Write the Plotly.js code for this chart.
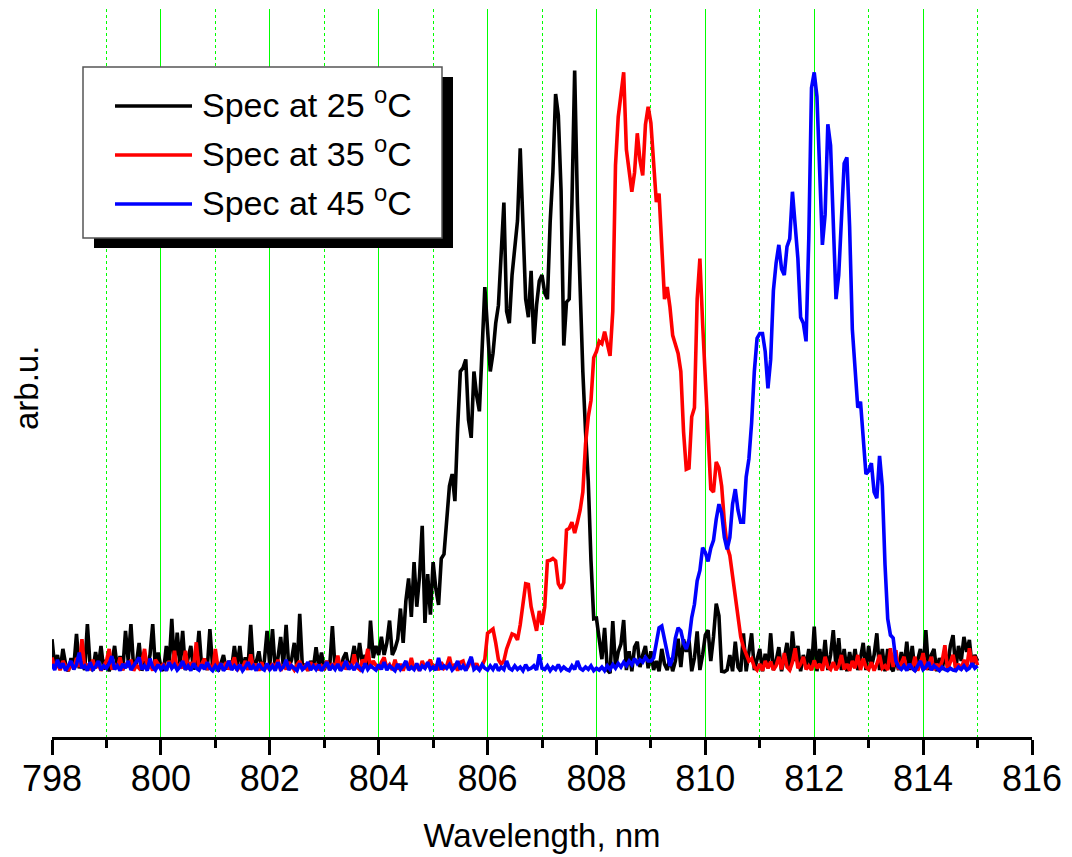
<!DOCTYPE html>
<html>
<head>
<meta charset="utf-8">
<script src="https://cdn.plot.ly/plotly-3.0.1.min.js"></script>
<style>html,body{margin:0;padding:0;background:#fff;}#chart{width:1072px;height:857px;}</style>
</head>
<body>
<div id="chart"></div>
<script>
// Wavelength grid, nm
const wavelength = [
798,798.05,798.1,798.15,798.2,798.25,798.3,798.35,798.4,798.45,798.5,798.55,798.6,798.65,798.7,798.75,798.8,798.85,798.9,798.95,
799,799.05,799.1,799.15,799.2,799.25,799.3,799.35,799.4,799.45,799.5,799.55,799.6,799.65,799.7,799.75,799.8,799.85,799.9,799.95,
800,800.05,800.1,800.15,800.2,800.25,800.3,800.35,800.4,800.45,800.5,800.55,800.6,800.65,800.7,800.75,800.8,800.85,800.9,800.95,
801,801.05,801.1,801.15,801.2,801.25,801.3,801.35,801.4,801.45,801.5,801.55,801.6,801.65,801.7,801.75,801.8,801.85,801.9,801.95,
802,802.05,802.1,802.15,802.2,802.25,802.3,802.35,802.4,802.45,802.5,802.55,802.6,802.65,802.7,802.75,802.8,802.85,802.9,802.95,
803,803.05,803.1,803.15,803.2,803.25,803.3,803.35,803.4,803.45,803.5,803.55,803.6,803.65,803.7,803.75,803.8,803.85,803.9,803.95,
804,804.05,804.1,804.15,804.2,804.25,804.3,804.35,804.4,804.45,804.5,804.55,804.6,804.65,804.7,804.75,804.8,804.85,804.9,804.95,
805,805.05,805.1,805.15,805.2,805.25,805.3,805.35,805.4,805.45,805.5,805.55,805.6,805.65,805.7,805.75,805.8,805.85,805.9,805.95,
806,806.05,806.1,806.15,806.2,806.25,806.3,806.35,806.4,806.45,806.5,806.55,806.6,806.65,806.7,806.75,806.8,806.85,806.9,806.95,
807,807.05,807.1,807.15,807.2,807.25,807.3,807.35,807.4,807.45,807.5,807.55,807.6,807.65,807.7,807.75,807.8,807.85,807.9,807.95,
808,808.05,808.1,808.15,808.2,808.25,808.3,808.35,808.4,808.45,808.5,808.55,808.6,808.65,808.7,808.75,808.8,808.85,808.9,808.95,
809,809.05,809.1,809.15,809.2,809.25,809.3,809.35,809.4,809.45,809.5,809.55,809.6,809.65,809.7,809.75,809.8,809.85,809.9,809.95,
810,810.05,810.1,810.15,810.2,810.25,810.3,810.35,810.4,810.45,810.5,810.55,810.6,810.65,810.7,810.75,810.8,810.85,810.9,810.95,
811,811.05,811.1,811.15,811.2,811.25,811.3,811.35,811.4,811.45,811.5,811.55,811.6,811.65,811.7,811.75,811.8,811.85,811.9,811.95,
812,812.05,812.1,812.15,812.2,812.25,812.3,812.35,812.4,812.45,812.5,812.55,812.6,812.65,812.7,812.75,812.8,812.85,812.9,812.95,
813,813.05,813.1,813.15,813.2,813.25,813.3,813.35,813.4,813.45,813.5,813.55,813.6,813.65,813.7,813.75,813.8,813.85,813.9,813.95,
814,814.05,814.1,814.15,814.2,814.25,814.3,814.35,814.4,814.45,814.5,814.55,814.6,814.65,814.7,814.75,814.8,814.85,814.9,814.95,
815
];

// Spectrum at 25 °C (arb. units)
const spec25 = [
5.6,1.0,3.0,0.5,4.0,1.5,0.3,2.5,1.0,6.5,0.8,2.0,0.5,8.1,1.2,0.4,3.5,1.0,4.5,0.6,
2.2,0.3,1.8,4.5,0.8,2.8,0.5,7.0,2.0,8.1,0.7,1.5,5.0,0.4,2.0,0.8,3.0,8.1,0.6,3.4,
1.0,0.4,4.5,1.2,9.0,0.8,6.7,1.5,7.0,0.5,2.5,4.5,0.6,1.8,7.0,0.9,2.4,0.5,7.3,1.0,
2.8,0.3,1.5,3.0,0.6,2.0,0.8,4.5,1.0,4.5,0.4,2.6,1.0,8.0,0.7,1.8,3.6,0.5,2.0,7.0,
1.2,7.3,0.6,2.5,6.0,1.0,8.0,0.8,2.2,5.0,0.5,9.8,0.8,1.5,0.4,2.0,0.8,4.3,1.0,3.4,
0.5,2.0,1.0,7.8,0.6,1.8,0.5,2.5,3.4,0.8,2.0,4.5,1.5,5.0,1.5,3.0,0.8,8.7,2.5,4.5,
3.0,6.0,3.0,5.0,8.7,3.0,4.0,5.6,10.7,5.0,12.0,15.7,9.3,18.4,11.0,16.0,24.4,8.3,16.4,9.7,
18.4,14.0,11.3,19.0,19.7,25.0,31.0,33.0,28.5,40.5,50.0,50.6,52.0,42.0,39.0,50.0,46.0,43.4,55.0,64.0,
57.0,50.0,53.0,58.0,61.0,70.0,78.0,60.0,58.0,66.0,71.0,75.0,87.0,75.0,62.0,59.0,66.7,54.6,61.0,65.0,
66.0,63.0,62.0,74.8,83.0,96.0,92.5,80.0,54.3,61.5,62.0,78.0,99.9,78.0,62.0,50.0,40.0,31.8,18.6,9.0,
9.1,5.6,2.3,7.5,0.5,0.0,8.6,1.0,3.5,4.8,8.8,0.5,3.6,0.3,4.3,5.2,1.0,3.0,4.5,0.8,
3.6,0.5,2.0,0.3,4.0,1.5,0.5,2.5,0.3,2.0,5.7,1.0,5.6,3.5,5.5,0.3,2.5,6.9,0.5,3.0,
6.3,7.1,2.0,6.0,11.5,9.5,0.3,0.2,0.5,3.0,0.3,5.2,1.0,0.3,6.6,0.3,3.5,6.6,0.5,2.5,
4.0,0.3,3.2,0.8,6.6,0.5,2.0,4.3,0.3,2.5,5.0,0.5,6.9,2.0,4.5,0.3,3.0,1.0,4.0,0.5,
7.7,0.3,4.0,1.0,5.5,0.5,3.0,7.1,1.0,5.8,0.5,4.0,0.3,3.5,1.0,4.0,0.5,2.5,5.0,0.5,
4.5,1.0,3.0,6.6,0.5,4.0,0.3,4.0,1.0,0.3,2.5,0.5,3.5,1.0,5.2,0.5,4.5,0.3,2.0,4.0,
0.5,7.1,0.5,3.0,4.0,0.3,2.5,0.5,3.5,1.0,4.5,6.3,0.5,4.5,2.0,6.0,3.5,5.5,1.0,3.0,
2.0
];

// Spectrum at 35 °C (arb. units)
const spec35 = [
2.6,0.8,1.5,0.5,2.0,1.2,0.4,1.8,0.6,2.5,1.0,5.6,0.8,1.5,0.5,2.2,0.8,1.6,0.4,1.2,
2.0,4.0,0.6,1.4,0.8,2.6,0.5,1.6,1.0,2.2,0.4,1.3,0.8,1.8,4.0,0.6,1.5,0.4,2.2,1.5,
0.8,1.6,0.4,2.0,1.0,3.7,0.5,1.4,0.8,3.7,0.6,1.8,1.0,5.1,0.5,1.5,2.4,0.6,1.2,0.4,
4.0,0.8,1.6,0.5,1.8,0.6,1.4,2.6,0.4,1.2,0.8,2.0,0.5,3.1,0.8,1.5,0.4,1.8,0.6,1.2,
0.5,1.6,0.8,2.2,0.4,1.4,0.6,1.8,1.0,0.5,1.4,2.0,0.6,1.2,0.4,1.8,0.8,1.5,0.5,1.2,
0.8,2.0,0.5,1.6,0.8,2.9,0.5,1.8,0.6,1.4,0.8,3.1,1.0,0.6,2.2,1.5,4.0,0.8,2.0,1.2,
0.6,1.8,2.6,0.8,1.4,0.5,2.2,0.6,1.5,0.4,1.8,0.8,2.5,0.6,1.2,0.4,2.0,0.8,1.5,2.2,
0.6,1.4,0.5,1.8,0.8,1.2,2.7,0.6,1.5,0.4,1.8,2.0,0.5,1.2,2.4,0.8,1.6,0.5,1.2,2.3,
6.6,7.0,7.3,5.0,2.2,1.5,2.0,4.0,5.5,6.5,6.3,5.5,8.0,12.0,14.8,14.7,11.0,9.0,7.0,10.3,
8.0,11.0,18.6,18.7,19.0,18.6,14.8,14.0,15.0,23.7,24.0,25.0,23.2,25.0,27.0,30.0,38.0,42.5,45.2,52.3,
53.3,55.0,54.6,56.6,54.6,52.6,60.0,84.2,92.2,96.0,99.6,86.8,83.5,79.8,83.0,89.5,85.0,82.5,90.9,93.9,
91.2,85.5,78.1,79.5,70.0,62.0,64.0,60.7,56.0,54.6,53.0,50.0,40.0,33.8,34.0,42.5,44.0,62.0,68.7,58.0,
48.0,38.5,30.5,30.0,35.0,34.0,31.0,25.0,21.0,19.5,16.0,12.0,8.5,6.0,4.3,3.0,2.0,2.4,1.0,0.5,
1.5,0.4,2.0,0.8,1.9,0.5,1.2,2.7,0.6,3.3,1.0,0.5,1.8,4.1,0.8,1.5,2.7,0.6,1.2,0.5,
2.1,0.8,1.5,0.4,2.7,1.0,0.6,1.8,0.5,1.2,3.0,0.6,1.5,0.4,2.0,0.8,3.0,0.5,2.4,1.0,
0.6,1.8,0.4,1.5,3.0,0.8,1.2,0.5,4.1,1.0,3.8,0.6,1.5,2.7,0.5,1.2,0.8,2.7,0.4,1.5,
3.3,0.6,1.2,2.7,0.5,1.5,0.8,2.0,4.6,0.6,1.8,3.0,0.8,1.5,0.5,2.2,0.8,4.1,1.5,2.8,
1.3
];

// Spectrum at 45 °C (arb. units)
const spec45 = [
1.5,0.5,2.2,0.8,1.6,0.4,1.2,2.0,0.6,1.4,3.4,0.8,1.2,0.4,1.8,0.6,1.0,2.0,0.5,1.2,
0.8,1.6,2.8,0.6,1.2,0.4,1.5,0.8,2.0,0.5,1.2,1.8,2.6,0.6,1.2,0.4,2.4,1.0,0.5,1.4,
0.6,1.2,0.4,1.8,0.8,1.4,0.5,1.0,2.0,0.6,1.2,0.4,1.6,0.8,0.5,1.4,0.6,1.8,0.8,0.4,
1.2,0.6,1.6,0.4,1.0,2.0,0.5,1.2,0.6,1.4,0.4,1.0,1.8,0.6,1.2,0.4,1.5,0.8,0.5,1.6,
0.6,1.2,0.4,1.8,0.6,1.0,2.2,0.5,1.2,0.8,0.4,1.6,0.6,1.0,1.8,0.5,1.2,0.6,1.4,0.4,
1.0,1.8,0.5,1.2,0.6,1.5,0.4,1.0,2.0,0.6,1.2,0.5,1.4,0.8,0.4,1.6,0.6,1.2,0.8,0.5,
1.4,0.6,1.8,0.5,1.2,0.8,0.4,1.5,0.6,1.2,2.0,0.5,1.0,0.6,1.6,0.4,1.2,0.8,1.8,0.6,
1.0,0.5,2.5,0.6,1.2,0.8,1.4,0.5,1.0,2.0,0.6,1.2,0.4,1.6,2.7,0.6,1.0,0.5,1.4,0.8,
0.5,1.2,0.6,1.5,0.4,1.0,0.6,2.0,0.8,0.5,1.2,0.6,1.0,0.4,1.4,0.6,0.8,1.2,0.5,3.1,
0.8,0.6,1.2,0.4,1.0,0.6,1.4,0.5,1.0,0.6,0.4,1.2,0.6,2.0,0.8,0.5,1.0,0.6,1.2,0.4,
0.8,0.5,1.0,0.4,1.2,0.6,1.4,0.8,1.6,1.0,1.8,1.2,2.0,1.4,2.4,1.6,2.2,1.8,2.6,2.0,
2.0,2.5,5.0,7.5,7.8,5.5,3.0,1.2,2.5,5.8,7.5,7.0,5.0,4.0,5.5,9.2,11.4,15.3,17.0,20.8,
20.0,18.5,20.7,22.0,25.5,28.0,26.5,22.5,20.5,22.5,28.0,30.5,27.0,25.0,25.0,32.5,35.5,41.5,50.0,55.5,
56.3,56.3,53.3,47.2,52.0,63.4,68.0,71.0,67.0,66.0,70.7,72.0,79.8,74.0,68.7,59.0,58.0,55.0,72.0,97.0,
99.6,95.6,82.0,71.0,76.0,91.0,87.5,75.4,62.0,66.0,77.0,84.5,85.5,74.0,57.0,49.3,44.0,45.0,38.0,33.0,
33.5,34.8,30.0,29.0,36.0,31.0,18.0,9.0,6.3,5.8,2.0,1.0,0.6,1.2,0.4,1.5,0.8,0.4,1.2,2.0,
0.6,1.0,1.8,0.5,1.2,0.8,0.4,1.0,0.6,0.4,0.8,0.5,0.4,1.0,0.6,1.2,0.5,0.8,1.6,0.8,
1.2
];

const seriesNames = ['Spec at 25 <sup>o</sup>C', 'Spec at 35 <sup>o</sup>C', 'Spec at 45 <sup>o</sup>C'];
const seriesColors = ['#000000', '#ff0000', '#0000ff'];
const seriesValues = [spec25, spec35, spec45];

const FONT = 'Liberation Sans, Arial, Helvetica, sans-serif';
const W = 1072, H = 857;
const M = {l: 52, r: 40, t: 9, b: 120};
const PW = W - M.l - M.r, PH = H - M.t - M.b;
const px = x => (x - M.l) / PW;
const py = y => (H - M.b - y) / PH;

const traces = seriesValues.map((vals, i) => ({
  type: 'scatter', mode: 'lines',
  x: wavelength, y: vals,
  name: seriesNames[i],
  line: {color: seriesColors[i], width: 3.6},
  showlegend: false, hoverinfo: 'skip'
}));

// Custom legend (Origin-style with drop shadow)
const shapes = [
  {type: 'rect', xref: 'paper', yref: 'paper', x0: px(94), x1: px(453), y0: py(248), y1: py(77),
   fillcolor: '#000000', line: {width: 0}, layer: 'above'},
  {type: 'rect', xref: 'paper', yref: 'paper', x0: px(83), x1: px(442), y0: py(238), y1: py(67),
   fillcolor: '#ffffff', line: {color: '#555555', width: 1.5}, layer: 'above'}
];
const rowY = [106, 155, 204];
const annotations = [];
seriesNames.forEach((nm, i) => {
  shapes.push({type: 'line', xref: 'paper', yref: 'paper', x0: px(115), x1: px(192), y0: py(rowY[i]), y1: py(rowY[i]),
    line: {color: seriesColors[i], width: 3.5}, layer: 'above'});
  annotations.push({xref: 'paper', yref: 'paper', x: px(200), y: py(rowY[i] - 3), xanchor: 'left', yanchor: 'middle',
    text: nm, showarrow: false, font: {family: FONT, size: 34, color: '#000'}});
});
// y-axis title
annotations.push({xref: 'paper', yref: 'paper', x: px(27), y: py(388), xanchor: 'center', yanchor: 'middle',
  text: 'arb.u.', textangle: -90, showarrow: false, font: {family: FONT, size: 33, color: '#000'}});

const layout = {
  width: W, height: H,
  margin: M,
  paper_bgcolor: '#ffffff', plot_bgcolor: '#ffffff',
  font: {family: FONT, color: '#000'},
  showlegend: false,
  xaxis: {
    range: [798, 816], tick0: 798, dtick: 2,
    ticks: 'outside', ticklen: 15, tickwidth: 3, tickcolor: '#000',
    showline: true, linewidth: 3, linecolor: '#000',
    showgrid: true, gridcolor: '#00ff00', gridwidth: 1,
    zeroline: false,
    ticklabelstandoff: -7,
    tickfont: {family: FONT, size: 36, color: '#000'},
    minor: {dtick: 1, tick0: 798, ticks: 'outside', ticklen: 8, tickwidth: 3, tickcolor: '#000',
            showgrid: true, gridcolor: '#00ff00', griddash: 'dot', gridwidth: 1},
    title: {text: 'Wavelength, nm', font: {family: FONT, size: 33, color: '#000'}, standoff: 26},
    automargin: false
  },
  yaxis: {
    range: [-10.6, 110.1],
    showticklabels: false, ticks: '', showgrid: false, zeroline: false, showline: false,
    automargin: false
  },
  shapes: shapes,
  annotations: annotations
};

Plotly.newPlot('chart', traces, layout, {displayModeBar: false, staticPlot: true});
</script>
</body>
</html>
